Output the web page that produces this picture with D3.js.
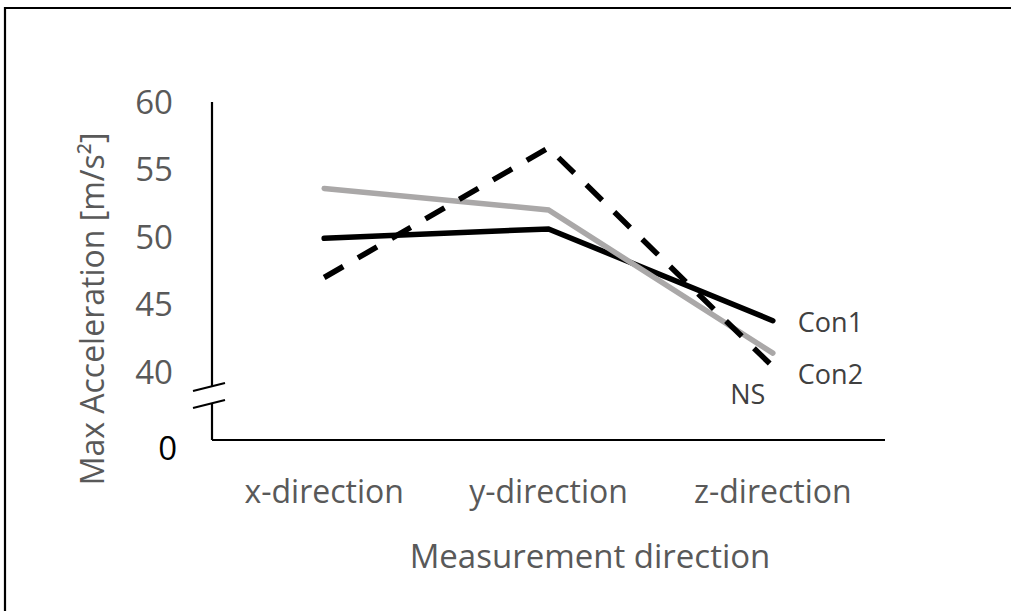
<!DOCTYPE html>
<html>
<head>
<meta charset="utf-8">
<script src="https://cdn.jsdelivr.net/npm/d3@7/dist/d3.min.js"></script>
<style>
  html, body { margin: 0; padding: 0; background: #fff; }
  svg { display: block; font-family: "Open Sans", sans-serif; }
</style>
</head>
<body>
<svg id="chart" width="1011" height="611"></svg>
<script>
// categories and series
const categories = ["x-direction", "y-direction", "z-direction"];
const con1 = [49.9, 50.6, 43.8];
const con2 = [53.6, 52.0, 41.4];
const ns = [47.0, 56.6, 40.4];
const yTicks = [40, 45, 50, 55, 60];
const seriesNames = ["Con1", "Con2", "NS"];

const svg = d3.select("#chart");

// frame (only top and left visible in the crop)
svg.append("path")
  .attr("d", "M5,620 L5,8 L1020,8")
  .attr("fill", "none")
  .attr("stroke", "#000")
  .attr("stroke-width", 2.2);

const left = 212, right = 885, axisY = 440;

const x = d3.scalePoint().domain(categories).range([left, right]).padding(0.5);
const y = d3.scaleLinear().domain([40, 60]).range([372, 102]);

// y tick labels
svg.append("g").selectAll("text")
  .data(yTicks)
  .join("text")
  .attr("x", 173)
  .attr("y", d => y(d))
  .attr("dy", "0.35em")
  .attr("text-anchor", "end")
  .attr("fill", "#595959")
  .attr("font-size", 33)
  .text(d => d);

// broken-axis zero label
svg.append("text")
  .attr("x", 177)
  .attr("y", axisY + 8)
  .attr("dy", "0.35em")
  .attr("text-anchor", "end")
  .attr("fill", "#000")
  .attr("font-size", 33)
  .text("0");

// y axis with break
const breakTop = y(40) + 15, breakBot = y(40) + 32;
const axis = svg.append("g").attr("stroke", "#000").attr("stroke-width", 2.2).attr("fill", "none");
axis.append("line").attr("x1", left).attr("x2", left).attr("y1", y(60)).attr("y2", breakTop);
axis.append("line").attr("x1", left).attr("x2", left).attr("y1", breakBot).attr("y2", axisY);
[breakTop, breakBot].forEach(b => {
  axis.append("line")
    .attr("x1", left - 19).attr("y1", b + 4)
    .attr("x2", left + 13).attr("y2", b - 4);
});
// x axis
axis.append("line").attr("x1", left).attr("x2", right).attr("y1", axisY).attr("y2", axisY);

// category labels
svg.append("g").selectAll("text")
  .data(categories)
  .join("text")
  .attr("x", d => x(d))
  .attr("y", 492)
  .attr("dy", "0.35em")
  .attr("text-anchor", "middle")
  .attr("fill", "#595959")
  .attr("font-size", 32)
  .text(d => d);

// axis titles
svg.append("text")
  .attr("x", 590)
  .attr("y", 556)
  .attr("dy", "0.35em")
  .attr("text-anchor", "middle")
  .attr("fill", "#595959")
  .attr("font-size", 33)
  .text("Measurement direction");

svg.append("text")
  .attr("transform", "translate(93,309) rotate(-90)")
  .attr("dy", "0.35em")
  .attr("text-anchor", "middle")
  .attr("fill", "#595959")
  .attr("font-size", 32)
  .text("Max Acceleration [m/s²]");

// lines
const line = d3.line().x((d, i) => x(categories[i])).y(d => y(d));

const styles = [
  { data: con1, color: "#000", dash: null, cap: "round" },
  { data: con2, color: "#aaa8a8", dash: null, cap: "round" },
  { data: ns, color: "#000", dash: "22,17", cap: "butt" }
];

styles.forEach(s => {
  svg.append("path")
    .datum(s.data)
    .attr("d", line)
    .attr("fill", "none")
    .attr("stroke", s.color)
    .attr("stroke-width", 5.5)
    .attr("stroke-linecap", s.cap)
    .attr("stroke-linejoin", "miter")
    .attr("stroke-dasharray", s.dash);
});

// direct labels at the last point
const last = categories[categories.length - 1];
const labelPos = [
  { dx: 25, y: y(con1[2]) + 2, anchor: "start" },
  { dx: 25, y: y(con2[2]) + 21, anchor: "start" },
  { dx: -25, y: y(ns[2]) + 28, anchor: "middle" }
];
svg.append("g").selectAll("text")
  .data(seriesNames)
  .join("text")
  .attr("x", (d, i) => x(last) + labelPos[i].dx)
  .attr("y", (d, i) => labelPos[i].y)
  .attr("dy", "0.35em")
  .attr("text-anchor", (d, i) => labelPos[i].anchor)
  .attr("fill", "#404040")
  .attr("font-size", 27)
  .text(d => d);
</script>
</body>
</html>
